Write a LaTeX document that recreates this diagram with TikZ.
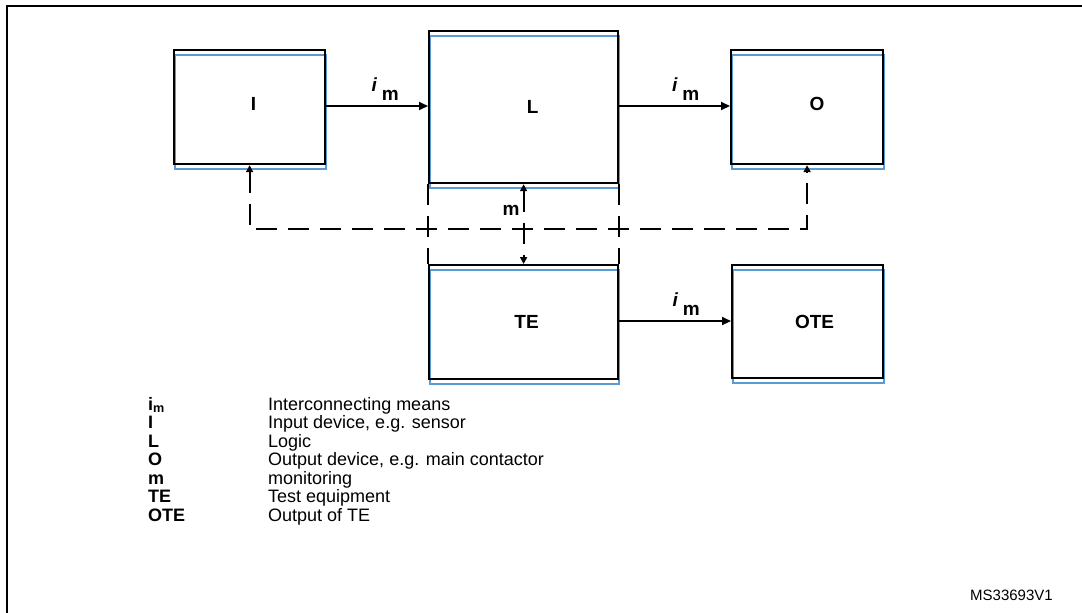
\documentclass[tikz,border=0pt]{standalone}
\usepackage{fontspec}
\setmainfont{Liberation Sans}
\usetikzlibrary{arrows.meta,shadows}
\definecolor{bl}{RGB}{91,155,213}
\begin{document}
\begin{tikzpicture}[x=1pt,y=-1pt,
  lw/.style={line width=2.2pt},
  boxnode/.style={draw, lw, inner sep=0, anchor=north west,
    general shadow={draw=bl, line width=2pt, shadow xshift=1pt, shadow yshift=-5pt}},
  dpat/.style={dash pattern=on 21pt off 11pt},
  dside/.style={lw, dpat},
  dsideblue/.style={draw=bl, line width=2pt, dpat, xshift=1.5pt},
  lbl/.style={font=\fontsize{19}{22}\selectfont\bfseries, inner sep=0},
  arr/.style={lw, -{Triangle[length=9pt,width=8pt]}},
  darr/.style={lw, dpat, {Triangle[length=7pt,width=7pt]}-{Triangle[length=7pt,width=7pt]}},
  iml/.style={font=\fontsize{19}{22}\selectfont\bfseries, inner sep=0, above=4pt},
  legk/.style={font=\fontsize{18}{20}\selectfont\bfseries, inner sep=0, anchor=base west},
  legv/.style={font=\fontsize{18}{20}\selectfont, inner sep=0, anchor=base west},
]
\useasboundingbox (0,0) rectangle (1082,613);
% frame
\draw[line width=2.2pt] (7,613) -- (7,6) -- (1082,6);

% boxes
\node[boxnode, minimum width=151pt, minimum height=114pt] (I) at (173,49) {};
\node[boxnode, minimum width=189pt, minimum height=152pt] (L) at (428,30) {};
\node[boxnode, minimum width=152pt, minimum height=114pt] (O) at (730,49) {};
\node[boxnode, minimum width=189pt, minimum height=114pt] (TE) at (428,264) {};
\node[boxnode, minimum width=151pt, minimum height=113pt] (OTE) at (731,264) {};

% dashed sides between L and TE
\draw[dsideblue] (L.south west) -- (TE.north west);
\draw[dsideblue] (L.south east) -- (TE.north east);
\draw[dside] (L.south west) -- (TE.north west);
\draw[dside] (L.south east) -- (TE.north east);

% labels in boxes
\node[lbl] (Il) at ([xshift=4pt,yshift=3pt]I.center) {I};
\node[lbl] (Ll) at ([xshift=9pt]L.center) {L};
\node[lbl] (Ol) at ([xshift=10pt,yshift=3pt]O.center) {O};
\node[lbl] (TEl) at ([xshift=3pt]TE.center) {TE};
\node[lbl] (OTEl) at ([xshift=7pt]OTE.center) {OTE};

% solid arrows
\draw[arr] (I.east |- 0,106) -- node[iml, pos=0.58] {\raisebox{9pt}{\itshape i}\hspace{5pt}m} (L.west |- 0,106);
\draw[arr] (L.east |- 0,106) -- node[iml, pos=0.6] {\raisebox{9pt}{\itshape i}\hspace{5pt}m} (O.west |- 0,106);
\draw[arr] (TE.east |- 0,321) -- node[iml, pos=0.6] {\raisebox{9pt}{\itshape i}\hspace{5pt}m} (OTE.west |- 0,321);

% dashed monitoring lines
\draw[darr] (I.south) -- ++(0,64) -| (O.south);
\draw[darr] (L.south) -- node[lbl, left=3pt, pos=0.33] (ml) {m} (TE.north);

% legend
\node[legk] (k1) at (148,410) {i\textsubscript{m}};
\node[legv] (v1) at (268,410) {Interconnecting means};
\node[legk] (k2) at (148,428.5) {I};
\node[legv] (v2) at (268,428.5) {Input device, e.g. sensor};
\node[legk] (k3) at (148,447) {L};
\node[legv] (v3) at (268,447) {Logic};
\node[legk] (k4) at (148,465.5) {O};
\node[legv] (v4) at (268,465.5) {Output device, e.g. main contactor};
\node[legk] (k5) at (148,484) {m};
\node[legv] (v5) at (268,484) {monitoring};
\node[legk] (k6) at (148,502.5) {TE};
\node[legv] (v6) at (268,502.5) {Test equipment};
\node[legk] (k7) at (148,521) {OTE};
\node[legv] (v7) at (268,521) {Output of TE};

\node[font=\fontsize{15}{17}\selectfont, inner sep=0, anchor=base west] (id) at (970,600) {MS33693V1};
\end{tikzpicture}
\end{document}
